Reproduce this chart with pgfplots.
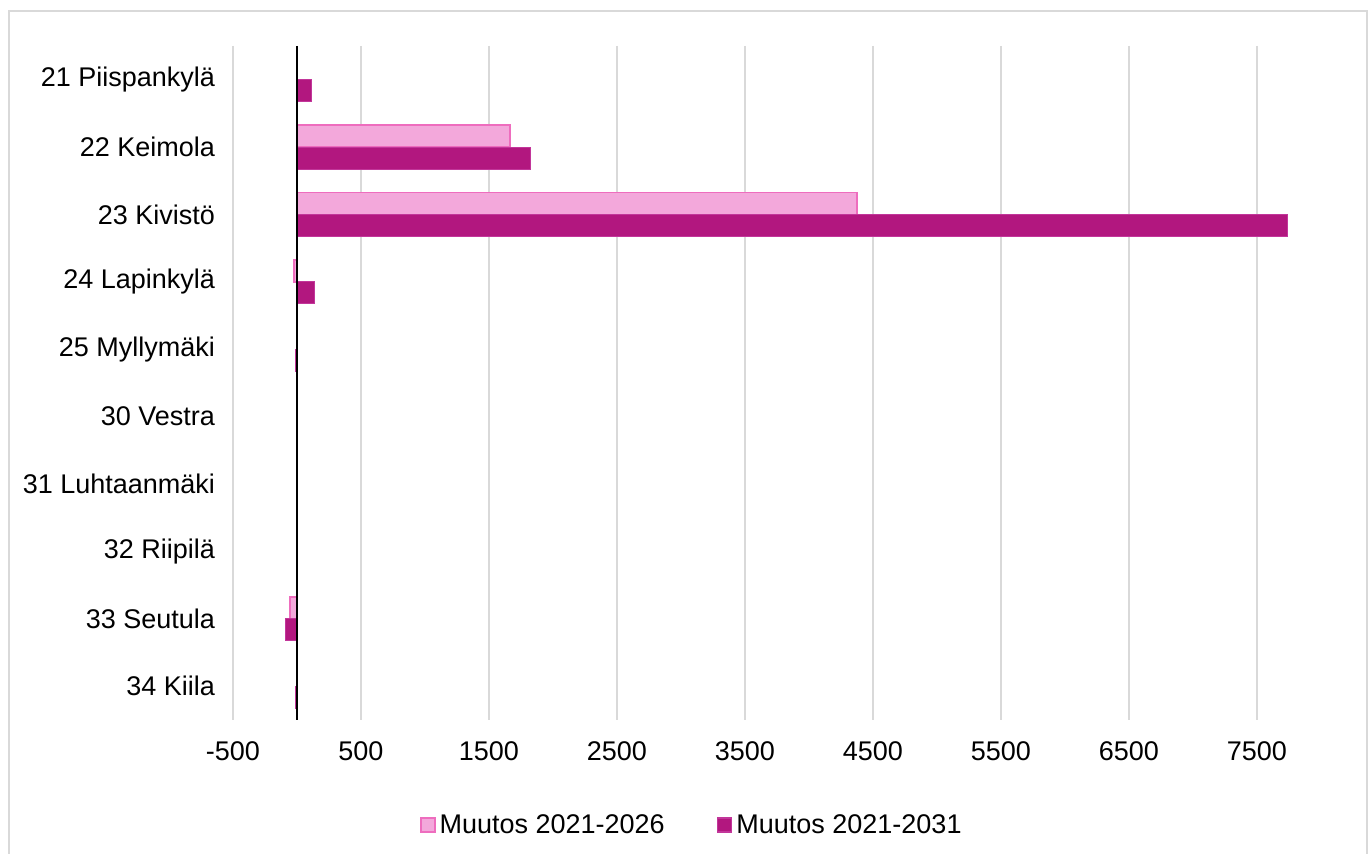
\documentclass[border=0pt]{standalone}
\usepackage{fontspec}
\setmainfont{Liberation Sans}
\usepackage{pgfplots}
\pgfplotsset{compat=1.18}
\definecolor{gridc}{HTML}{D9D9D9}
\definecolor{pinkfill}{HTML}{F3A8DB}
\definecolor{pinkedge}{HTML}{EE6DBE}
\definecolor{magfill}{HTML}{B2177F}
\definecolor{magedge}{HTML}{C2369A}
\begin{document}
\begin{tikzpicture}
\useasboundingbox (0,0) rectangle (686pt,427pt);
\draw[gridc, line width=1pt] (4.5pt,-1pt) -- (4.5pt,421.5pt) -- (683.5pt,421.5pt) -- (683.5pt,-1pt);
\begin{axis}[
  at={(116.5pt,67pt)}, anchor=south west,
  scale only axis, width=563.5pt, height=337pt,
  xmin=-500, xmax=8305,
  ymin=-0.5, ymax=9.5, y dir=reverse,
  axis line style={draw=none},
  major tick length=0pt,
  xmajorgrids, major grid style={gridc, line width=1pt},
  xtick={-500,500,1500,2500,3500,4500,5500,6500,7500},
  xticklabels={-500,500,1500,2500,3500,4500,5500,6500,7500},
  ytick={0,1,2,3,4,5,6,7,8,9},
  yticklabels={21 Piispankylä,22 Keimola,23 Kivistö,24 Lapinkylä,25 Myllymäki,30 Vestra,31 Luhtaanmäki,32 Riipilä,33 Seutula,34 Kiila},
  ticklabel style={font=\fontsize{13.5}{16}\selectfont, text=black},
  xticklabel style={yshift=-7.5pt},
  yticklabel style={xshift=-5.5pt},
  legend style={at={(0.408,-0.156)}, anchor=center, draw=none, legend columns=2,
    font=\fontsize{13.5}{16}\selectfont, /tikz/every even column/.append style={column sep=24pt}},
  legend image code/.code={\draw[#1, line width=0.8pt] (0pt,-3.5pt) rectangle (7pt,3.5pt);},
  clip=false,
]
\addplot[xbar, bar width=11pt, bar shift=5.5pt, fill=pinkfill, draw=pinkedge, line width=0.8pt] coordinates {
(0,0) (1664,1) (4375,2) (-23,3) (-5,4) (-5,5) (-5,6) (0,7) (-55,8) (-5,9)};
\addlegendentry{Muutos 2021-2026}
\addplot[xbar, bar width=11pt, bar shift=-5.5pt, fill=magfill, draw=magedge, line width=0.5pt] coordinates {
(115,0) (1828,1) (7742,2) (135,3) (-15,4) (0,5) (0,6) (0,7) (-86,8) (-8,9)};
\addlegendentry{Muutos 2021-2031}
\addplot[black, line width=1pt, forget plot] coordinates {(0,-0.5) (0,9.5)};
\end{axis}
\end{tikzpicture}
\end{document}
